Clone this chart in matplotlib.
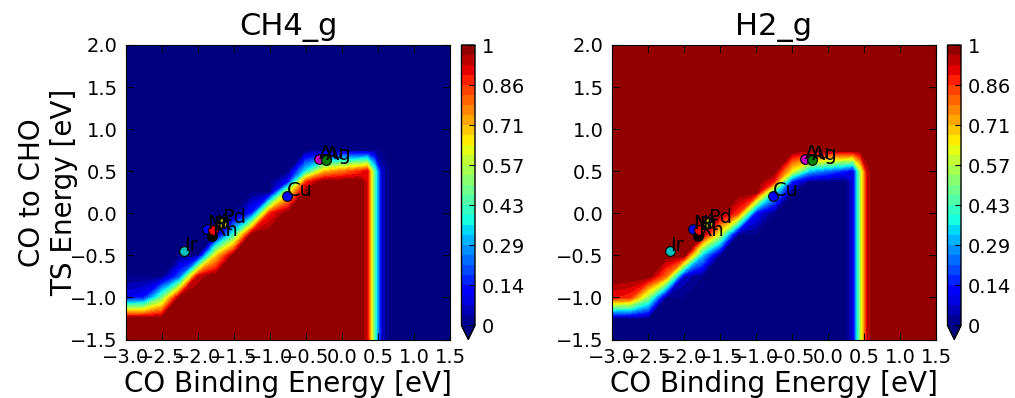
import matplotlib.pyplot as plt
import numpy as np

# CO binding energy grid (x) and CO->CHO TS energy grid (y), eV
co_be = [-3.0, -2.75, -2.5, -2.25, -2.0, -1.75, -1.5, -1.25, -1.0, -0.75,
         -0.5, -0.25, 0.0, 0.25, 0.35, 0.45, 0.55, 0.65, 1.5]
ts_e = [-1.5, -1.25, -1.0, -0.75, -0.5, -0.25, 0.0, 0.25, 0.375, 0.5, 0.75,
        1.0, 1.25, 1.5, 1.75, 2.0]

# CH4_g selectivity, one row per ts_e value (bottom to top)
ch4_sel = [
    [1, 1, 1, 1, 1, 1, 1, 1, 1, 1, 1, 1, 1, 1, 0.92, 0.45, 0.06, 0, 0],
    [1, 1, 1, 1, 1, 1, 1, 1, 1, 1, 1, 1, 1, 1, 0.92, 0.45, 0.06, 0, 0],
    [0.1, 0.14, 0.48, 1, 1, 1, 1, 1, 1, 1, 1, 1, 1, 1, 0.92, 0.45, 0.06, 0, 0],
    [0, 0, 0, 0.21, 0.94, 1, 1, 1, 1, 1, 1, 1, 1, 1, 0.92, 0.45, 0.06, 0, 0],
    [0, 0, 0, 0, 0, 0.68, 1, 1, 1, 1, 1, 1, 1, 1, 0.92, 0.45, 0.06, 0, 0],
    [0, 0, 0, 0, 0, 0, 0.41, 1, 1, 1, 1, 1, 1, 1, 0.92, 0.45, 0.06, 0, 0],
    [0, 0, 0, 0, 0, 0, 0, 0.15, 0.88, 1, 1, 1, 1, 1, 0.92, 0.45, 0.06, 0, 0],
    [0, 0, 0, 0, 0, 0, 0, 0, 0, 0.62, 1, 1, 1, 1, 0.92, 0.45, 0.06, 0, 0],
    [0, 0, 0, 0, 0, 0, 0, 0, 0, 0.12, 0.86, 1, 1, 1, 0.92, 0.45, 0.06, 0, 0],
    [0, 0, 0, 0, 0, 0, 0, 0, 0, 0, 0.36, 0.7, 0.78, 0.86, 0.92, 0.45, 0.06, 0, 0],
    [0, 0, 0, 0, 0, 0, 0, 0, 0, 0, 0, 0, 0, 0, 0, 0, 0, 0, 0],
    [0, 0, 0, 0, 0, 0, 0, 0, 0, 0, 0, 0, 0, 0, 0, 0, 0, 0, 0],
    [0, 0, 0, 0, 0, 0, 0, 0, 0, 0, 0, 0, 0, 0, 0, 0, 0, 0, 0],
    [0, 0, 0, 0, 0, 0, 0, 0, 0, 0, 0, 0, 0, 0, 0, 0, 0, 0, 0],
    [0, 0, 0, 0, 0, 0, 0, 0, 0, 0, 0, 0, 0, 0, 0, 0, 0, 0, 0],
    [0, 0, 0, 0, 0, 0, 0, 0, 0, 0, 0, 0, 0, 0, 0, 0, 0, 0, 0],
]

metals = ["Ir", "Ni", "Rh", "Pt", "Pd", "Cu", "Au", "Ag"]
metal_be = [-2.19, -1.87, -1.81, -1.79, -1.67, -0.76, -0.315, -0.22]
metal_ts = [-0.45, -0.19, -0.27, -0.20, -0.11, 0.21, 0.64, 0.63]
metal_colors = ["c", "b", "k", "r", "y", "b", "m", "g"]

titles = ["CH4_g", "H2_g"]
xticks = [-3.0, -2.5, -2.0, -1.5, -1.0, -0.5, 0.0, 0.5, 1.0, 1.5]
yticks = [-1.5, -1.0, -0.5, 0.0, 0.5, 1.0, 1.5, 2.0]


def draw_map(fig, rect, cax_rect, z, title, ylabel=None):
    ax = fig.add_axes(rect)
    levels = np.linspace(0, 1, 29)
    cs = ax.contourf(co_be, ts_e, z, levels=levels, cmap="jet", extend="min")

    for name, x, y, c in zip(metals, metal_be, metal_ts, metal_colors):
        ax.plot(x, y, "o", color=c, mec="k", mew=0.8, ms=7)
        ax.text(x, y, name, fontsize=14)

    ax.set_xlim(-3.0, 1.5)
    ax.set_ylim(-1.5, 2.0)
    ax.set_xticks(xticks)
    ax.set_yticks(yticks)
    ax.tick_params(direction="in", top=True, right=True, length=5,
                   width=0.8, labelsize=14, pad=6)
    ax.set_title(title, fontsize=22, pad=7)
    ax.set_xlabel("CO Binding Energy [eV]", fontsize=20, labelpad=2)
    if ylabel:
        ax.set_ylabel(ylabel, fontsize=20, labelpad=-6)

    cax = fig.add_axes(cax_rect)
    cbar = fig.colorbar(cs, cax=cax, ticks=np.linspace(0, 1, 8), format="%.2g")
    cbar.ax.tick_params(direction="in", length=4, width=0.8, labelsize=14, pad=5)
    cbar.outline.set_linewidth(1.0)
    return ax


def main():
    ch4 = np.array(ch4_sel, dtype=float)
    h2 = 1 - ch4

    fig = plt.figure(figsize=(10.15, 3.98), dpi=100)
    fig.patch.set_facecolor("white")

    bottom, height = 1 - 339.5 / 398, 294.5 / 398
    draw_map(fig, [126 / 1015, bottom, 324 / 1015, height],
             [461.5 / 1015, bottom, 13.5 / 1015, height],
             ch4, titles[0], ylabel="CO to CHO\nTS Energy [eV]")
    draw_map(fig, [612 / 1015, bottom, 324 / 1015, height],
             [947.5 / 1015, bottom, 13.5 / 1015, height],
             h2, titles[1])

    fig.savefig("out.png", dpi=100, facecolor="white")


if __name__ == "__main__":
    main()
